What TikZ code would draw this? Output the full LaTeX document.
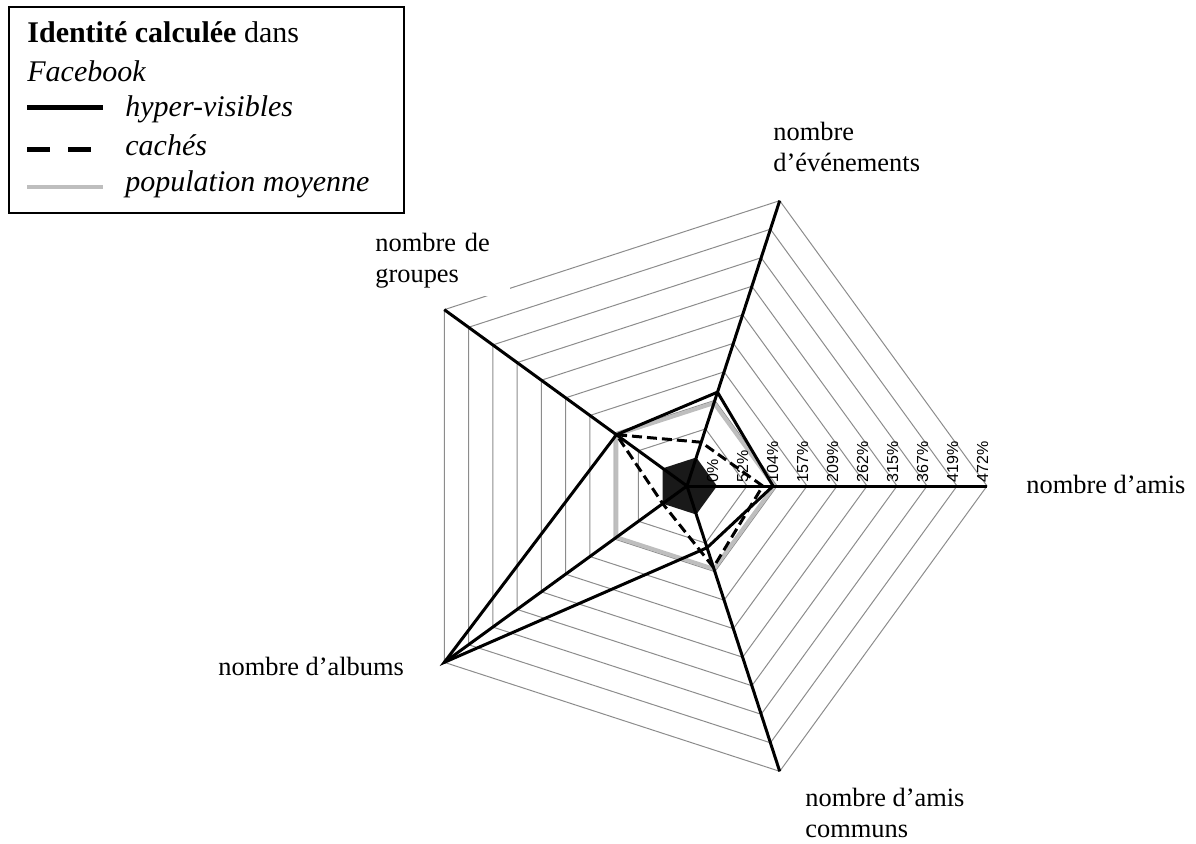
\documentclass[tikz,border=0pt]{standalone}
\usepackage{fontspec}
\setmainfont{Liberation Serif}
\newfontfamily\tickfont{Liberation Sans}
\definecolor{popGray}{RGB}{190,190,190}
\definecolor{gridGray}{RGB}{140,140,140}

\begin{document}
\begin{tikzpicture}[x=0.5pt, y=0.5pt,
            declare function={ringrad(\p)=30+30*\p/52.44;}]
            \tikzstyle{gridLine} = [draw=gridGray, line width=0.5pt]
            \tikzstyle{axisEdge} = [draw=black, line width=1.5pt]
            \tikzstyle{hyperEdge} = [draw=black, line width=1.5pt]
            \tikzstyle{hiddenEdge} = [draw=black, line width=1.5pt, dash pattern=on 5pt off 2.5pt]
            \tikzstyle{meanEdge} = [draw=popGray, line width=2pt]
            \tikzstyle{axisLabel} = [font=\fontsize{13.2}{15.5}\selectfont, align=left, inner sep=0pt, anchor=base west]
            \tikzstyle{tickLabel} = [font=\tickfont\fontsize{8}{9}\selectfont, rotate=90, inner sep=0pt, anchor=base west]
            \tikzstyle{legendText} = [font=\fontsize{15}{18}\selectfont, inner sep=0pt, anchor=base west]
            \useasboundingbox (0,0) rectangle (1196,843);
            \begin{scope}[shift={(687,357)}]
                % grille
                \foreach \k in {1,...,9} {
                    \pgfmathsetmacro\r{30+30*\k}
                    \draw[gridLine] (0:\r) -- (72:\r) -- (144:\r) -- (216:\r) -- (288:\r) -- cycle;
                }
                \coordinate (O) at (0,0);
                \coordinate (amis) at (0:300);
                \coordinate (evt) at (72:300);
                \coordinate (grp) at (144:300);
                \coordinate (alb) at (216:300);
                \coordinate (com) at (288:300);
                % series: hyper-visibles / caches / moyenne
                \foreach \n/\a/\h/\c in {1/0/98/80, 2/72/120/28, 3/144/100/100,
                                         4/216/472/0, 5/288/61/97} {
                    \coordinate (h\n) at (\a:{ringrad(\h)});
                    \coordinate (c\n) at (\a:{ringrad(\c)});
                    \coordinate (m\n) at (\a:{ringrad(100)});
                }
                \draw[meanEdge] (m1) -- (m2) -- (m3) -- (m4) -- (m5) -- cycle;
                \fill[black!90] (0:30) -- (72:30) -- (144:30) -- (216:30) -- (288:30) -- cycle;
                \foreach \to in {amis,evt,grp,alb,com}
                    \path[axisEdge] (O) edge (\to);
                \draw[hiddenEdge] (c1) -- (c2) -- (c3) -- (c4) -- (c5) -- cycle;
                \draw[hyperEdge] (h1) -- (h2) -- (h3) -- (h4) -- (h5) -- cycle;
                \foreach \k/\v in {0/0,1/52,2/104,3/157,4/209,5/262,6/315,7/367,8/419,9/472}
                    \node[tickLabel] (t\k) at ({31+30*\k},3) {\v\%};
            \end{scope}
            % axes
            \node[axisLabel] (lblEvt) at (773,671) {nombre\\d'événements};
            \node[axisLabel, fill=white, text width=67.5pt, inner ysep=3.5pt] (lblGrp) at (375,591) {nombre de\\groupes};
            \node[axisLabel] (lblAmis) at (1026,350) {nombre d'amis};
            \node[axisLabel] (lblAlb) at (218,168) {nombre d'albums};
            \node[axisLabel] (lblCom) at (805,6) {nombre d'amis\\communs};
            % legende
            \draw[line width=1pt] (9,836) rectangle (404,630);
            \node[legendText] (legTitle) at (27,800) {\textbf{Identité calculée} dans};
            \node[legendText] (legFb) at (27,761) {\textit{Facebook}};
            \coordinate (hypA) at (27,735);
            \coordinate (hypB) at (103,735);
            \coordinate (hidA) at (27,693);
            \coordinate (hidB) at (92,693);
            \coordinate (meanA) at (27,656);
            \coordinate (meanB) at (103,656);
            \draw[hyperEdge, line width=2.5pt] (hypA) -- (hypB);
            \draw[hiddenEdge, line width=2.5pt, dash pattern=on 11.5pt off 9pt] (hidA) -- (hidB);
            \draw[meanEdge] (meanA) -- (meanB);
            \node[legendText] (legHyper) at (125,726) {\textit{hyper-visibles}};
            \node[legendText] (legHidden) at (125,687) {\textit{cachés}};
            \node[legendText] (legMean) at (125,652) {\textit{population moyenne}};
\end{tikzpicture}
\end{document}
